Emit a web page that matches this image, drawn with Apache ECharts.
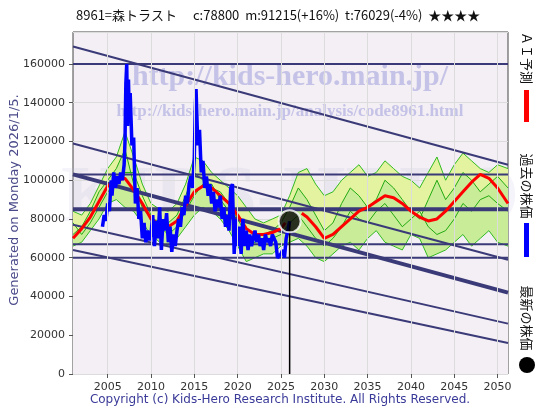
<!DOCTYPE html>
<html>
<head>
<meta charset="utf-8">
<script src="https://cdn.jsdelivr.net/npm/echarts@6/dist/echarts.min.js"></script>
<style>body{margin:0;background:#fff}#main{width:560px;height:420px}</style>
</head>
<body>
<div id="main"></div>
<script>
// 過去の株価 [年, 株価]
var pastYears = [2004.4,2004.6,2004.8,2005.0,2005.2,2005.4,2005.5,2005.7,2005.9,2006.1,2006.3,2006.5,2006.7,2006.9,2007.0,2007.1,2007.2,2007.3,2007.4,2007.5,2007.6,2007.8,2008.0,2008.2,2008.4,2008.6,2008.8,2009.0,2009.2,2009.4,2009.6,2009.8,2010.0,2010.2,2010.4,2010.6,2010.8,2011.0,2011.2,2011.4,2011.6,2011.8,2012.0,2012.2,2012.4,2012.6,2012.8,2013.0,2013.2,2013.4,2013.6,2013.8,2014.0,2014.2,2014.4,2014.6,2014.8,2015.0,2015.1,2015.2,2015.4,2015.6,2015.8,2016.0,2016.2,2016.4,2016.6,2016.8,2017.0,2017.2,2017.4,2017.6,2017.8,2018.0,2018.2,2018.4,2018.6,2018.8,2019.0,2019.2,2019.4,2019.6,2019.8,2020.0,2020.2,2020.4,2020.6,2020.8,2021.0,2021.2,2021.4,2021.6,2021.8,2022.0,2022.2,2022.4,2022.6,2022.8,2023.0,2023.2,2023.4,2023.6,2023.8,2024.0,2024.2,2024.4,2024.6,2024.8,2025.0,2025.2,2025.4,2025.6,2025.8,2026.0];
var pastPrice = [76000,82000,79000,88000,84000,100000,92000,104000,96000,102000,98000,104000,100000,108000,120000,150000,160000,128000,152000,132000,145000,118000,122000,88000,96000,80000,84000,70000,78000,68000,74000,69000,72000,82000,66000,79000,70000,86000,64000,80000,74000,83000,68000,76000,63000,72000,66000,74000,80000,76000,86000,82000,92000,88000,98000,102000,96000,112000,135000,147000,118000,126000,104000,110000,96000,102000,92000,98000,88000,94000,84000,90000,86000,92000,80000,86000,76000,82000,74000,96000,98000,62000,80000,66000,76000,62000,80000,66000,74000,64000,72000,66000,70000,74000,68000,72000,66000,70000,64000,72000,68000,70000,66000,72000,70000,68000,60000,61000,62000,64000,60000,70000,74000,78800];
// ＡＩ予測
var aiYears = [2001,2002,2003,2004,2005,2006,2007,2008,2009,2010,2011,2012,2013,2014,2015,2016,2017,2018,2019,2020,2021,2022,2023,2024,2025,2025.5,null,2027.4,2028,2029,2030,2031,2032,2033,2034,2035,2036,2037,2038,2039,2040,2041,2042,2043,2044,2045,2046,2047,2048,2049,2050,2051.2];
var aiPrice = [70000,75000,81000,89000,97000,100000,101000,95000,88000,80000,77000,76000,79000,87000,94000,97000,96000,92000,88000,82000,75000,72000,72000,73000,75000,78000,null,83000,81000,76000,70000,72000,76000,80000,84000,86000,89000,92000,91000,88000,84000,81000,79000,80000,84000,89000,94000,99000,103000,101000,96000,88000];
// 予測の幅 (上限・下限)
var bandYears = [2001,2002,2003,2004,2005,2006,2007,2008,2009,2010,2011,2012,2013,2014,2015,2016,2017,2018,2019,2020,2021,2022,2023,2024,2025,2026,2027,2028,2029,2030,2031,2032,2033,2034,2035,2036,2037,2038,2039,2040,2041,2042,2043,2044,2045,2046,2047,2048,2049,2050,2051.2];
var bandHigh = [84000,82000,88000,97000,106000,112000,125000,112000,98000,88000,85000,84000,88000,98000,112000,110000,104000,100000,96000,92000,86000,80000,78000,80000,82000,92000,104000,106000,98000,92000,94000,100000,104000,108000,102000,104000,110000,106000,102000,100000,96000,104000,112000,100000,108000,114000,110000,106000,104000,108000,106000];
var bandLow = [66000,68000,74000,80000,88000,90000,86000,84000,78000,72000,68000,66000,70000,76000,82000,86000,84000,80000,74000,66000,58000,60000,62000,62000,66000,68000,70000,66000,60000,58000,62000,66000,68000,64000,70000,74000,68000,66000,64000,72000,70000,60000,62000,64000,68000,72000,66000,70000,74000,68000,66000];
var greenA = [72000,76000,84000,94000,100000,106000,116000,98000,86000,80000,79000,78000,82000,92000,104000,100000,96000,94000,88000,80000,72000,70000,72000,74000,78000,86000,96000,90000,82000,74000,78000,88000,96000,92000,86000,90000,100000,96000,90000,84000,80000,90000,100000,90000,96000,104000,100000,94000,98000,102000,96000];
var greenB = [78000,72000,78000,86000,94000,98000,104000,104000,92000,82000,76000,72000,76000,84000,92000,98000,98000,90000,84000,76000,66000,68000,70000,70000,72000,78000,82000,76000,70000,66000,70000,76000,84000,80000,78000,84000,88000,82000,76000,80000,84000,76000,72000,74000,80000,88000,84000,90000,92000,88000,84000];
// 水平線・斜線
var hLevels = [160000,103000,85000,67000,60000];
var hWidths = [2,2,4,2,2];
var trendLines = [[169000,108000],[119000,59000],[103000,42000],[77000,26000],[64000,16000]];
var trendWidths = [2,2,4,2,2];
var xTicks = [2005,2010,2015,2020,2025,2030,2035,2040,2045,2050];
var lastYear = 2026.0, lastPrice = 78800;

var X0 = 2001, X1 = 2051.2;
var plotBg = '#f4eff4';
function pairs(xs, ys) { return xs.map(function (x, i) { return x === null ? [null, null] : [x, ys[i]]; }); }
var navy = '#3a3a78';

var series = [];
// 背景の縦グリッド
series.push({
	type: 'line', data: [], silent: true,
	markLine: { symbol: 'none', silent: true, label: { show: false },
		lineStyle: { color: '#dcdcdc', type: 'solid', width: 1 },
		data: xTicks.map(function (v) { return { xAxis: v }; }) }
});
// 予測の幅 (上限まで塗り、下限以下を背景色で消す)
series.push({ type: 'line', data: pairs(bandYears, bandHigh), symbol: 'none', silent: true,
	lineStyle: { color: '#33bb22', width: 1 }, areaStyle: { color: '#e4f3a0', opacity: 1, origin: 'start' } });
series.push({ type: 'line', data: pairs(bandYears, greenA), symbol: 'none', silent: true,
	lineStyle: { color: '#22aa11', width: 1 }, areaStyle: { color: '#c8ec98', opacity: 1, origin: 'start' } });
series.push({ type: 'line', data: pairs(bandYears, bandLow), symbol: 'none', silent: true,
	lineStyle: { color: '#33bb22', width: 1 }, areaStyle: { color: plotBg, opacity: 1, origin: 'start' } });
series.push({ type: 'line', data: pairs(bandYears, greenB), symbol: 'none', lineStyle: { color: '#22aa11', width: 1 }, silent: true });
// 水平線
hLevels.forEach(function (v, i) {
	series.push({ type: 'line', data: [[X0, v], [X1, v]], symbol: 'none', silent: true,
		lineStyle: { color: navy, width: hWidths[i] } });
});
// 斜線
trendLines.forEach(function (t, i) {
	series.push({ type: 'line', data: [[X0, t[0]], [X1, t[1]]], symbol: 'none', silent: true,
		lineStyle: { color: navy, width: trendWidths[i] } });
});
// ＡＩ予測
series.push({ type: 'line', data: pairs(aiYears, aiPrice), symbol: 'none', connectNulls: false,
	lineStyle: { color: '#ff0000', width: 3 } });
// 過去の株価
series.push({ type: 'line', data: pairs(pastYears, pastPrice), symbol: 'none',
	lineStyle: { color: '#0000ff', width: 3.5 } });
// 最新の株価
series.push({ type: 'line', data: [[lastYear, 0], [lastYear, lastPrice]], symbol: 'none',
	lineStyle: { color: '#000', width: 1.5 } });
series.push({ type: 'scatter', data: [[lastYear, lastPrice]], symbolSize: 22,
	itemStyle: { color: '#000', borderColor: '#fff', borderWidth: 2 }, z: 10 });

var myChart = echarts.init(document.getElementById('main'));
var option = {
	animation: false,
	backgroundColor: '#fff',
	grid: { left: 73, right: 52, top: 32, bottom: 46, show: true, backgroundColor: plotBg, borderColor: '#444', borderWidth: 1 },
	xAxis: {
		type: 'value', min: X0, max: X1,
		axisLine: { show: false }, splitLine: { show: false },
		axisTick: { customValues: xTicks, length: 4, lineStyle: { color: '#555' } },
		axisLabel: { customValues: xTicks, color: '#333', fontSize: 11, fontFamily: 'DejaVu Sans',
			formatter: function (v) { return String(v); } }
	},
	yAxis: {
		type: 'value', min: 0, max: 176500, interval: 20000,
		axisLine: { show: false },
		axisTick: { show: true, length: 4, lineStyle: { color: '#555' } },
		splitLine: { lineStyle: { color: '#dcdcdc' } },
		axisLabel: { color: '#333', fontSize: 11, fontFamily: 'DejaVu Sans', showMaxLabel: false,
			formatter: function (v) { return v > 170000 ? '' : String(v); } }
	},
	graphic: [
		{ type: 'text', left: 76, top: 9, style: { text: '8961=森トラスト　 c:78800  m:91215(+16%)  t:76029(-4%)  ★★★★', fill: '#111', font: '13px "Noto Sans CJK JP"' } },
		{ type: 'text', x: 290, y: 77, z: 1, style: { text: 'http://kids-hero.main.jp/', fill: 'rgba(150,150,220,0.5)', font: 'bold 30px "Liberation Serif"', align: 'center', verticalAlign: 'middle' } },
		{ type: 'text', x: 290, y: 112, z: 1, style: { text: 'http://kids-hero.main.jp/analysis/code8961.html', fill: 'rgba(150,150,220,0.5)', font: 'bold 17px "Liberation Serif"', align: 'center', verticalAlign: 'middle' } },
		{ type: 'text', x: 290, y: 200, z: 0, style: { text: 'KIDS-HERO', fill: 'rgba(180,180,220,0.15)', font: 'bold 80px "Liberation Serif"', align: 'center', verticalAlign: 'middle' } },
		{ type: 'text', x: 290, y: 327, z: 1, style: { text: 'info@kids-hero.main.jp', fill: 'rgba(150,150,220,0.5)', font: 'bold 28px "Liberation Serif"', align: 'center', verticalAlign: 'middle' } },
		{ type: 'text', x: 15, y: 200, rotation: Math.PI / 2, style: { text: 'Generated on Monday 2026/1/5.', fill: '#4a4a8a', font: '13px "DejaVu Sans"', align: 'center', verticalAlign: 'middle' } },
		{ type: 'text', left: 'center', top: 394, style: { text: 'Copyright (c) Kids-Hero Research Institute. All Rights Reserved.', fill: '#3a3a99', font: '12px "DejaVu Sans"' } },
		{ type: 'text', x: 527, y: 58, rotation: -Math.PI / 2, style: { text: 'ＡＩ予測', fill: '#111', font: '13px "Noto Sans CJK JP"', align: 'center', verticalAlign: 'middle' } },
		{ type: 'rect', shape: { x: 524, y: 90, width: 5, height: 32 }, style: { fill: '#ff0000' } },
		{ type: 'text', x: 527, y: 186, rotation: -Math.PI / 2, style: { text: '過去の株価', fill: '#111', font: '13px "Noto Sans CJK JP"', align: 'center', verticalAlign: 'middle' } },
		{ type: 'rect', shape: { x: 524, y: 223, width: 5, height: 34 }, style: { fill: '#0000ff' } },
		{ type: 'text', x: 527, y: 318, rotation: -Math.PI / 2, style: { text: '最新の株価', fill: '#111', font: '13px "Noto Sans CJK JP"', align: 'center', verticalAlign: 'middle' } },
		{ type: 'circle', shape: { cx: 527, cy: 365, r: 8 }, style: { fill: '#000' } }
	],
	series: series
};
myChart.setOption(option, true);
</script>
</body>
</html>
